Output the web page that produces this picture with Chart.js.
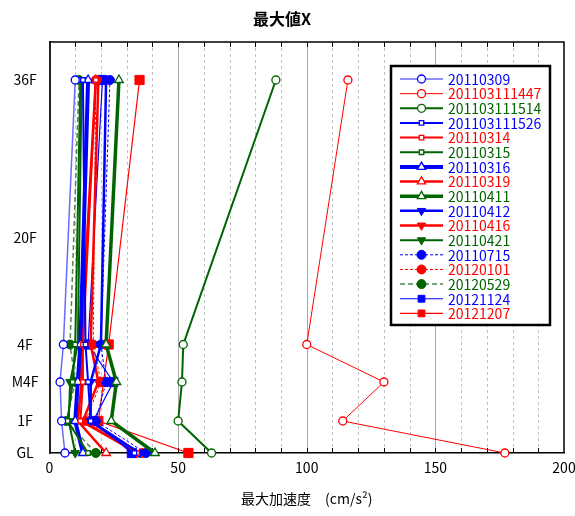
<!DOCTYPE html>
<html lang="ja">
<head>
  <meta charset="UTF-8">
  <title>最大値X</title>
  <script src="https://cdn.jsdelivr.net/npm/chart.js"></script>
  <style>
    html, body {
      margin: 0;
      padding: 0;
      background: white;
    }
    #wrap {
      width: 575px;
      height: 516px;
    }
  </style>
</head>
<body>
  <div id="wrap"><canvas id="maxChart" width="575" height="516"></canvas></div>

  <script>
    // 階の並び（縦軸）と軸上の位置
    const levels = ['GL', '1F', 'M4F', '4F', '20F', '36F'];
    const levelTicks = [0, 32, 71, 108.5, 215, 373];
    // 観測した階
    const measuredAt = ['GL', '1F', 'M4F', '4F', '36F'];

    const eventNames = [
      '20110309', '201103111447', '201103111514', '201103111526',
      '20110314', '20110315', '20110316', '20110319', '20110411',
      '20110412', '20110416', '20110421', '20110715', '20120101',
      '20120529', '20121124', '20121207'
    ];

    // 最大加速度 (cm/s2)  GL, 1F, M4F, 4F, 36F の順
    const v20110309     = [6, 4.7, 4.1, 5.4, 10];
    const v201103111447 = [177, 114, 130, 100, 116];
    const v201103111514 = [63, 50, 51.5, 52, 88];
    const v201103111526 = [33, 16, 15, 14, 13];
    const v20110314     = [34, 12, 13, 13, 18];
    const v20110315     = [15, 7, 9, 10, 12];
    const v20110316     = [13, 10, 11, 12, 15];
    const v20110319     = [22, 11, 12.5, 12.3, 18];
    const v20110411     = [41, 24, 26, 22, 27];
    const v20110412     = [35, 16, 16, 20, 22];
    const v20110416     = [34, 13, 19, 16, 19];
    const v20110421     = [10, 7.5, 8, 11, 12.5];
    const v20110715     = [37.5, 18, 22, 20, 23.5];
    const v20120101     = [36, 14, 20, 17, 18];
    const v20120529     = [18, 6.5, 10, 8, 11.5];
    const v20121124     = [32, 17, 24.8, 15, 20.6];
    const v20121207     = [54, 19, 21, 23, 35];

    const seriesValues = [
      v20110309, v201103111447, v201103111514, v201103111526,
      v20110314, v20110315, v20110316, v20110319, v20110411,
      v20110412, v20110416, v20110421, v20110715, v20120101,
      v20120529, v20121124, v20121207
    ];

    const BLUE = '#0000ff', RED = '#ff0000', GREEN = '#006400';
    const FONT = "'Noto Sans CJK JP', 'Noto Sans', sans-serif";

    // 線種・マーカー
    const looks = [
      { line: '#6a6aff', text: BLUE,  w: 1.5, pt: 'circle',   r: 4,   open: true, edge: BLUE },
      { line: RED,       text: RED,   w: 1,   pt: 'circle',   r: 4,   open: true },
      { line: GREEN,     text: GREEN, w: 2,   pt: 'circle',   r: 4,   open: true },
      { line: BLUE,      text: BLUE,  w: 2,   pt: 'rect',     r: 3.2, open: true },
      { line: RED,       text: RED,   w: 2,   pt: 'rect',     r: 3.2, open: true },
      { line: GREEN,     text: GREEN, w: 2,   pt: 'rect',     r: 3.2, open: true },
      { line: BLUE,      text: BLUE,  w: 4,   pt: 'triangle', r: 5,   open: true },
      { line: RED,       text: RED,   w: 2.5, pt: 'triangle', r: 5,   open: true },
      { line: GREEN,     text: GREEN, w: 3.5, pt: 'triangle', r: 5,   open: true },
      { line: BLUE,      text: BLUE,  w: 2.5, pt: 'triangle', r: 5,   rot: 180 },
      { line: RED,       text: RED,   w: 2.5, pt: 'triangle', r: 5,   rot: 180 },
      { line: GREEN,     text: GREEN, w: 2,   pt: 'triangle', r: 5,   rot: 180 },
      { line: BLUE,      text: BLUE,  w: 1,   pt: 'circle',   r: 4.5, dash: [3, 2] },
      { line: RED,       text: RED,   w: 1,   pt: 'circle',   r: 4.5, dash: [3, 2] },
      { line: '#4f8a4f', text: GREEN, w: 1.5, pt: 'circle',   r: 4.5, dash: [5, 3], fill: GREEN },
      { line: BLUE,      text: BLUE,  w: 1.2, pt: 'rect',     r: 6.5 },
      { line: RED,       text: RED,   w: 1.2, pt: 'rect',     r: 6.5 }
    ];

    const datasets = eventNames.map((name, i) => {
      const lk = looks[i];
      const mark = lk.fill || lk.edge || lk.line;
      return {
        label: name,
        data: seriesValues[i].map((v, j) => ({ x: v, y: levelTicks[levels.indexOf(measuredAt[j])] })),
        borderColor: lk.line,
        borderWidth: lk.w,
        borderDash: lk.dash || [],
        pointStyle: lk.pt,
        pointRadius: lk.r,
        pointHoverRadius: lk.r,
        pointRotation: lk.rot || 0,
        pointBorderWidth: lk.open ? 1.3 : 1,
        pointBorderColor: mark,
        pointBackgroundColor: lk.open ? '#ffffff' : mark,
        tension: 0,
        fill: false,
        clip: false
      };
    });

    function marker(ctx, style, x, y, r, rot) {
      ctx.beginPath();
      if (style === 'circle') {
        ctx.arc(x, y, r, 0, Math.PI * 2);
      } else if (style === 'rect') {
        const s = r * Math.SQRT1_2;
        ctx.rect(x - s, y - s, s * 2, s * 2);
      } else {
        let a = (rot || 0) * Math.PI / 180;
        ctx.moveTo(x + Math.sin(a) * r, y - Math.cos(a) * r);
        a += Math.PI * 2 / 3;
        ctx.lineTo(x + Math.sin(a) * r, y - Math.cos(a) * r);
        a += Math.PI * 2 / 3;
        ctx.lineTo(x + Math.sin(a) * r, y - Math.cos(a) * r);
        ctx.closePath();
      }
      ctx.fill();
      ctx.stroke();
    }

    // 補助線・枠・内向き目盛り
    const framePlugin = {
      id: 'frame',
      beforeDatasetsDraw(chart) {
        const { ctx, chartArea: a, scales: { x } } = chart;
        ctx.save();
        ctx.lineWidth = 1;
        for (let v = 10; v < 200; v += 10) {
          const px = Math.round(x.getPixelForValue(v)) + 0.5;
          if (v % 50 === 0) {
            ctx.strokeStyle = '#a9a9a9';
            ctx.setLineDash([]);
          } else {
            ctx.strokeStyle = '#c2c2c2';
            ctx.setLineDash([3, 3]);
          }
          ctx.beginPath();
          ctx.moveTo(px, a.top);
          ctx.lineTo(px, a.bottom);
          ctx.stroke();
        }
        ctx.setLineDash([]);
        ctx.strokeStyle = '#000';
        ctx.beginPath();
        for (let v = 10; v < 200; v += 10) {
          const px = Math.round(x.getPixelForValue(v)) + 0.5;
          ctx.moveTo(px, a.top);
          ctx.lineTo(px, a.top + 5);
          ctx.moveTo(px, a.bottom);
          ctx.lineTo(px, a.bottom - 5);
        }
        ctx.stroke();
        ctx.lineWidth = 1.5;
        ctx.beginPath();
        ctx.moveTo(a.left, a.top);
        ctx.lineTo(a.right, a.top);
        ctx.lineTo(a.right, a.bottom);
        ctx.stroke();
        ctx.restore();
      }
    };

    // 凡例（枠付き）
    const legendBox = {
      id: 'legendBox',
      afterDraw(chart) {
        const ctx = chart.ctx;
        const left = 391, top = 66, right = 550, bottom = 325;
        ctx.save();
        ctx.fillStyle = '#fff';
        ctx.fillRect(left, top, right - left, bottom - top);
        ctx.lineWidth = 2.5;
        ctx.strokeStyle = '#000';
        ctx.strokeRect(left, top, right - left, bottom - top);
        ctx.font = '14px ' + FONT;
        ctx.textBaseline = 'middle';
        chart.data.datasets.forEach((ds, i) => {
          const lk = looks[i];
          const y = 79 + i * 14.65;
          ctx.strokeStyle = lk.line;
          ctx.lineWidth = lk.w;
          ctx.setLineDash(lk.dash || []);
          ctx.beginPath();
          ctx.moveTo(400, y);
          ctx.lineTo(443, y);
          ctx.stroke();
          ctx.setLineDash([]);
          ctx.lineWidth = lk.open ? 1.3 : 1;
          ctx.strokeStyle = ds.pointBorderColor;
          ctx.fillStyle = ds.pointBackgroundColor;
          marker(ctx, lk.pt, 421.5, y, Math.min(lk.r, 4.8), lk.rot);
          ctx.fillStyle = lk.text;
          ctx.fillText(ds.label, 448, y + 0.5);
        });
        ctx.restore();
      }
    };

    new Chart(document.getElementById('maxChart'), {
      type: 'line',
      data: { datasets },
      options: {
        responsive: false,
        animation: false,
        devicePixelRatio: 1,
        layout: { padding: { left: 0, right: 11, top: 0, bottom: 0 } },
        plugins: {
          legend: { display: false },
          tooltip: { enabled: false },
          title: {
            display: true,
            text: '最大値X',
            color: '#000',
            font: { family: FONT, size: 16, weight: 'bold' },
            padding: { top: 9, bottom: 13.8 }
          }
        },
        scales: {
          x: {
            type: 'linear',
            min: 0,
            max: 200,
            ticks: {
              stepSize: 50,
              color: '#000',
              padding: 6,
              font: { family: FONT, size: 14 }
            },
            grid: { display: false, drawTicks: false },
            border: { display: true, color: '#000', width: 1.5 },
            title: {
              display: true,
              text: '最大加速度　(cm/s²)',
              color: '#000',
              font: { family: FONT, size: 14 },
              padding: { top: 4, bottom: 9 }
            },
            afterFit(scale) {
              scale.height = 63;
              scale.paddingLeft = 0;
              scale.paddingRight = 0;
            }
          },
          y: {
            type: 'linear',
            min: 0,
            max: 411,
            afterBuildTicks(scale) {
              scale.ticks = levelTicks.map(v => ({ value: v }));
            },
            ticks: {
              color: '#000',
              padding: 11,
              crossAlign: 'center',
              autoSkip: false,
              font: { family: FONT, size: 14 },
              callback: v => levels[levelTicks.indexOf(v)]
            },
            grid: { display: false, drawTicks: false },
            border: { display: true, color: '#222', width: 2 },
            afterFit(scale) { scale.width = 49.5; }
          }
        }
      },
      plugins: [framePlugin, legendBox]
    });
  </script>
</body>
</html>
